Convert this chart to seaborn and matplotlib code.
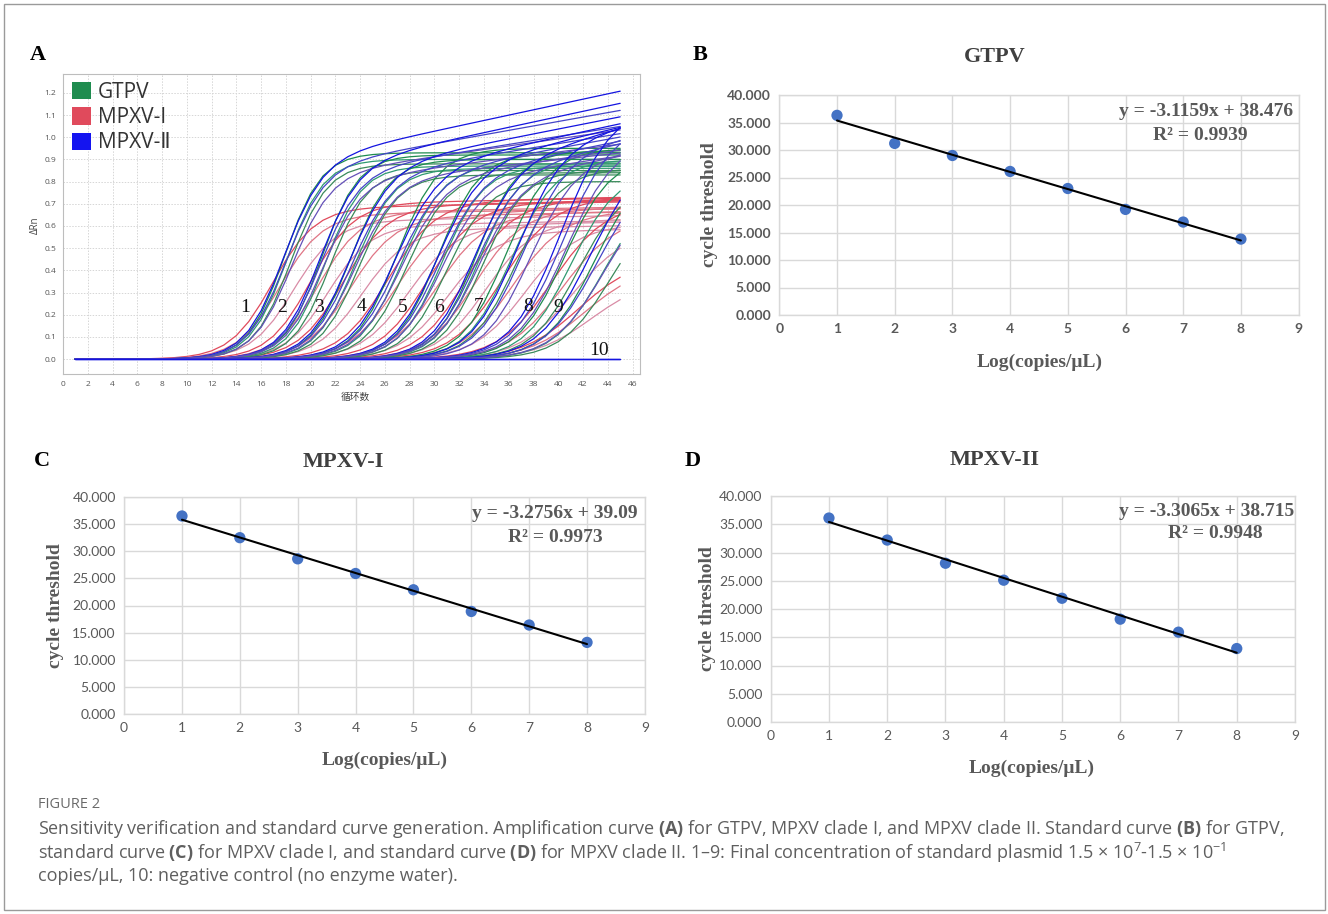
import numpy as np
import pandas as pd
import matplotlib
matplotlib.use("Agg")
import matplotlib.pyplot as plt
import seaborn as sns
from matplotlib.patches import Patch, Rectangle

# ---------------- data ----------------
cycles = list(range(1, 46))
# amplification curves: 9 dilutions x 3 replicates, half-plateau cycle and plateau height
gtpv_mid = [17.9, 18.1, 18.4, 20.9, 21.2, 21.6, 23.2, 23.6, 23.9, 27.0, 27.4, 27.8,
            30.3, 30.6, 31.0, 33.4, 33.6, 33.9, 35.8, 36.2, 36.6, 40.5, 41.0, 41.6,
            43.0, 43.6, 44.2]
gtpv_top = [0.93, 0.90, 0.88, 0.92, 0.87, 0.85, 0.90, 0.86, 0.83, 0.95, 0.88, 0.84,
            0.93, 0.87, 0.80, 0.94, 0.89, 0.85, 0.95, 0.90, 0.86, 0.92, 0.85, 0.80,
            0.90, 0.78, 0.72]
mpxv1_mid = [16.9, 17.5, 18.6, 20.0, 20.6, 21.4, 22.6, 23.2, 24.1, 26.2, 27.0, 27.9,
             29.4, 30.2, 31.1, 32.5, 33.2, 34.1, 35.5, 36.3, 37.3, 39.5, 40.3, 41.1,
             41.6, 42.1, 42.6]
mpxv1_top = [0.68, 0.65, 0.62, 0.70, 0.66, 0.60, 0.69, 0.64, 0.58, 0.71, 0.66, 0.60,
             0.70, 0.65, 0.57, 0.71, 0.67, 0.62, 0.72, 0.66, 0.60, 0.70, 0.64, 0.58,
             0.45, 0.42, 0.36]
mpxv2_mid = [17.7, 17.9, 18.4, 20.6, 20.7, 20.9, 23.0, 23.2, 23.5, 26.6, 26.9, 27.2,
             30.0, 30.2, 30.5, 33.0, 33.2, 33.4, 36.5, 37.0, 37.6, 40.0, 40.2, 40.5,
             42.2, 42.8, 43.5]
mpxv2_top = [0.88, 0.85, 0.82, 0.86, 0.83, 0.80, 0.85, 0.82, 0.80, 0.84, 0.82, 0.80,
             0.85, 0.82, 0.80, 0.86, 0.83, 0.80, 0.95, 0.92, 0.88, 1.08, 1.02, 0.96,
             0.85, 0.80, 0.75]
mpxv2_drift = [0.012, 0.010, 0.008, 0.012, 0.009, 0.007, 0.011, 0.009, 0.006, 0.012,
               0.010, 0.008, 0.013, 0.011, 0.008, 0.015, 0.012, 0.010, 0.012, 0.010,
               0.008, 0.010, 0.008, 0.006, 0.020, 0.015, 0.010]
dilution_width = [1.5, 1.5, 1.6, 1.7, 1.7, 1.7, 1.8, 1.9, 2.0]
curve_labels = ["1", "2", "3", "4", "5", "6", "7", "8", "9", "10"]
label_cycle = [14.7, 17.7, 20.7, 24.1, 27.4, 30.4, 33.6, 37.6, 40.0, 43.3]
label_drn = [0.234, 0.234, 0.234, 0.236, 0.234, 0.234, 0.236, 0.236, 0.234, 0.04]

log_conc = [1, 2, 3, 4, 5, 6, 7, 8]
gtpv_ct = [36.3, 31.2, 29.0, 26.1, 23.0, 19.2, 16.9, 13.8]
mpxv1_ct = [36.5, 32.5, 28.6, 25.9, 22.9, 18.9, 16.4, 13.2]
mpxv2_ct = [36.1, 32.2, 28.1, 25.1, 21.9, 18.2, 15.9, 13.0]
fit_slope = [-3.1159, -3.2756, -3.3065]
fit_intercept = [38.476, 39.09, 38.715]
fit_r2 = ["0.9939", "0.9973", "0.9948"]
panel_titles = ["GTPV", "MPXV-I", "MPXV-II"]

# ---------------- style ----------------
W, H = 1328, 914
sns.set_style("white")
plt.rcParams["font.family"] = ["Open Sans", "DejaVu Sans"]
plt.rcParams["mathtext.fontset"] = "custom"
plt.rcParams["mathtext.rm"] = "Open Sans"
plt.rcParams["mathtext.bf"] = "Open Sans:bold"
plt.rcParams["mathtext.it"] = "Open Sans:italic"

fig = plt.figure(figsize=(W / 100, H / 100), dpi=100)
fig.patch.set_facecolor("white")


def add_ax(l, t, r, b):
    return fig.add_axes([l / W, 1 - b / H, (r - l) / W, (b - t) / H])


def ftext(x, y, s, **kw):
    return fig.text(x / W, 1 - y / H, s, **kw)


# ---------------- panel A ----------------
green_shades = ["#1f8c4f", "#2f9a70", "#3a8a5a"]
red_shades = ["#e04a5c", "#e07585", "#d98ca6"]
blue_shades = ["#1414e0", "#4444c8", "#6450b8"]

rows = []
palette = {}
order = []


def add_curves(name, mids, tops, drifts, shades, wscale):
    for i, (m, p, d) in enumerate(zip(mids, tops, drifts)):
        cid = f"{name}{i}"
        s = dilution_width[i // 3] * wscale
        for c in cycles:
            rows.append((cid, c, (p + d * (c - m)) / (1 + np.exp(-(c - m) / s))))
        palette[cid] = shades[i % 3]
        order.append(cid)


add_curves("r", mpxv1_mid, mpxv1_top, [0.001] * 27, red_shades, 1.15)
add_curves("g", gtpv_mid, gtpv_top, [0.0] * 27, green_shades, 1.0)
add_curves("b", mpxv2_mid, mpxv2_top, mpxv2_drift, blue_shades, 1.05)
for k in range(3):
    cid = f"n{k}"
    for c in cycles:
        rows.append((cid, c, 0.0))
    palette[cid] = blue_shades[0]
    order.append(cid)
dfA = pd.DataFrame(rows, columns=["curve", "cycle", "dRn"])

axA = add_ax(63, 74, 640, 374)
sns.lineplot(data=dfA, x="cycle", y="dRn", hue="curve", hue_order=order,
             palette=palette, estimator=None, legend=False, lw=0.9, ax=axA)
axA.set_xlim(0, 46.6)
axA.set_ylim(-0.067, 1.285)
axA.set_xticks(range(0, 47, 2))
yt = [round(0.1 * i, 1) for i in range(13)]
axA.set_yticks(yt)
axA.set_yticklabels([f"{v:.1f}" for v in yt])
axA.tick_params(labelsize=6, colors="#555555", length=2, width=0.6, pad=3)
axA.grid(True, color="#d6d6d6", lw=0.7, ls=(0, (1.5, 1.5)))
for sp in axA.spines.values():
    sp.set_color("#bdbdbd")
    sp.set_linewidth(0.8)
axA.set_xlabel("")
axA.set_ylabel("")
for lab, cx, cy in zip(curve_labels, label_cycle, label_drn):
    axA.text(cx, cy, lab, ha="center", va="center", fontsize=14,
             family="Liberation Serif", color="#111111")
handles = [Patch(facecolor="#1f8c4f", edgecolor="none"),
           Patch(facecolor="#e04a5c", edgecolor="none"),
           Patch(facecolor="#1414f0", edgecolor="none")]
leg = axA.legend(handles, ["GTPV", "MPXV-I", "MPXV-Ⅱ"], loc="upper left",
                 bbox_to_anchor=(9 / 577, 1 - 8 / 300), borderaxespad=0, borderpad=0,
                 frameon=False, handlelength=0.9, handleheight=0.9,
                 handletextpad=0.35, labelspacing=0.2,
                 prop={"family": ["Open Sans", "DejaVu Sans", "Noto Sans CJK SC"],
                       "size": 15})
for t in leg.get_texts():
    t.set_color("#333333")
ftext(35, 225, "ΔRn", rotation=90, ha="center", va="center", fontsize=7, color="#444444")
ftext(355, 397, "循环数", ha="center", va="center", fontsize=7, color="#444444",
      family=["Noto Sans CJK SC", "DejaVu Sans"])

# ---------------- panels B, C, D ----------------
cts = [gtpv_ct, mpxv1_ct, mpxv2_ct]
boxes = [(779.3, 95, 1298.6, 315), (124.1, 497, 644.9, 714), (770.7, 496, 1295.0, 722)]
title_pos = [(995, 57), (343, 462), (995, 460)]
ylab_pos = [(710, 205), (55, 606), (708, 609)]
xlab_pos = [(1040, 362), (385, 760), (1032, 768)]
eq_pos = [(1293, 111), (638, 514), (1294, 511)]
r2_pos = [(1200, 135), (555, 537), (1215, 534)]
tick_weight = ["bold", "normal", "normal"]
serif = "Liberation Serif"
grey = "#595959"

for k in range(3):
    l, t, r, b = boxes[k]
    ax = add_ax(l, t, r, b)
    sns.scatterplot(x=log_conc, y=cts[k], color="#4472C4", s=66, edgecolor="none",
                    ax=ax, zorder=3)
    xs = [log_conc[0], log_conc[-1]]
    ys = [fit_intercept[k] + fit_slope[k] * v for v in xs]
    sns.lineplot(x=xs, y=ys, color="black", lw=1.5, ax=ax, zorder=4)
    ax.set_xlim(0, 9)
    ax.set_ylim(0, 40)
    ax.set_xticks(range(0, 10))
    ax.set_yticks(range(0, 41, 5))
    ax.set_yticklabels([f"{v:.3f}" for v in range(0, 41, 5)])
    ax.grid(True, color="#d9d9d9", lw=1.0)
    ax.set_axisbelow(True)
    for sp in ax.spines.values():
        sp.set_color("#d9d9d9")
        sp.set_linewidth(1.0)
    ax.tick_params(length=0, pad=6, labelsize=10, colors=grey)
    for lab in ax.get_xticklabels() + ax.get_yticklabels():
        lab.set_family("Lato")
        lab.set_fontweight(tick_weight[k])
    ax.set_xlabel("")
    ax.set_ylabel("")
    ftext(*title_pos[k], panel_titles[k], ha="center", va="center", fontsize=16,
          family=serif, fontweight="bold", color="#404040")
    ftext(*ylab_pos[k], "cycle threshold", rotation=90, ha="center", va="center",
          fontsize=14, family=serif, fontweight="bold", color=grey)
    ftext(*xlab_pos[k], "Log(copies/μL)", ha="center", va="center", fontsize=14,
          family=serif, fontweight="bold", color=grey)
    sign = "-" if fit_slope[k] < 0 else ""
    ftext(*eq_pos[k], f"y = {sign}{abs(fit_slope[k]):.4f}x + {fit_intercept[k]:g}",
          ha="right", va="center", fontsize=14, family=serif, fontweight="bold",
          color=grey)
    ftext(*r2_pos[k], f"R² = {fit_r2[k]}", ha="center", va="center", fontsize=14,
          family=serif, fontweight="bold", color=grey)

# panel letters
for s, (x, y) in zip("ABCD", [(38, 55), (700, 55), (42, 461), (693, 461)]):
    ftext(x, y, s, ha="center", va="center", fontsize=16, family=serif,
          fontweight="bold", color="black")

# ---------------- caption ----------------
cap_color = "#5f5f5f"
ftext(38, 805, "FIGURE 2", ha="left", va="center", fontsize=10.5, color="#6a6a6a")
cap_lines = [
    r"Sensitivity verification and standard curve generation. Amplification curve $\mathbf{(A)}$ for GTPV, MPXV clade I, and MPXV clade II. Standard curve $\mathbf{(B)}$ for GTPV,",
    r"standard curve $\mathbf{(C)}$ for MPXV clade I, and standard curve $\mathbf{(D)}$ for MPXV clade II. 1–9: Final concentration of standard plasmid 1.5 × $10^{7}$-1.5 × $10^{-1}$",
    "copies/μL, 10: negative control (no enzyme water).",
]
for s, y in zip(cap_lines, [829, 853, 876]):
    ftext(38, y, s, ha="left", va="center", fontsize=13.0, color=cap_color)

# outer border
fig.patches.append(Rectangle((4 / W, 1 - 910 / H), 1321 / W, 906 / H, fill=False,
                             edgecolor="#9a9a9a", lw=1.0, transform=fig.transFigure))

fig.savefig("out.png", dpi=100, facecolor="white")
